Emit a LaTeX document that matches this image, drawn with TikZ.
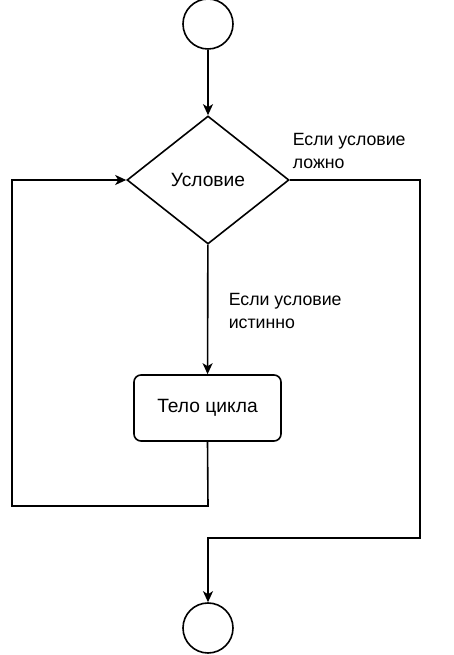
\documentclass[tikz,border=0pt]{standalone}
\usepackage{fontspec}
\setmainfont{Liberation Sans}
\usetikzlibrary{arrows.meta}
\usetikzlibrary{shapes.geometric}

\begin{document}
\begin{tikzpicture}[>={Stealth[length=11bp,width=10bp,inset=3bp]},line join=miter,
    terminal/.style={circle,draw,minimum size=50bp,inner sep=0bp},
    blocktext/.style={font=\fontsize{19.3}{23}\selectfont},
    edgelabel/.style={anchor=north west,align=left,inner sep=0bp,font=\fontsize{17.8}{23}\selectfont}]
    \pgfsetlinewidth{1.6bp}
    \useasboundingbox (0bp,0bp) rectangle (454bp,655bp);
    %%
    % Node: start
    \node[terminal] (start) at (208bp,631bp) {};
    % Node: cond
    \node[diamond,draw,blocktext,minimum width=162bp,minimum height=128bp,inner sep=0bp] (cond) at (208bp,475bp) {Условие};
    % Node: body
    \node[draw,rounded corners=7bp,blocktext,minimum width=147bp,minimum height=66bp] (body) at (207.5bp,247bp) {Тело цикла};
    % Node: stop
    \node[terminal] (stop) at (208bp,27bp) {};
    % Labels
    \node[edgelabel] (falselbl) at (292bp,522bp) {Если условие\\ложно};
    \node[edgelabel] (truelbl) at (228bp,362bp) {Если условие\\истинно};
    %
    % Edge: start -> cond
    \draw [->] (start) -- (cond);
    % Edge: cond -> body
    \draw [->] (cond) -- (body);
    % Edge: body -> cond
    \draw [->] (body.south) -- (208bp,149bp) -- (12bp,149bp) -- (12bp,475bp) -- (cond.west);
    % Edge: cond -> stop
    \draw [->] (cond.east) -- (420bp,475bp) -- (420bp,117bp) -- (208bp,117bp) -- (stop.north);
    %
\end{tikzpicture}
\end{document}
